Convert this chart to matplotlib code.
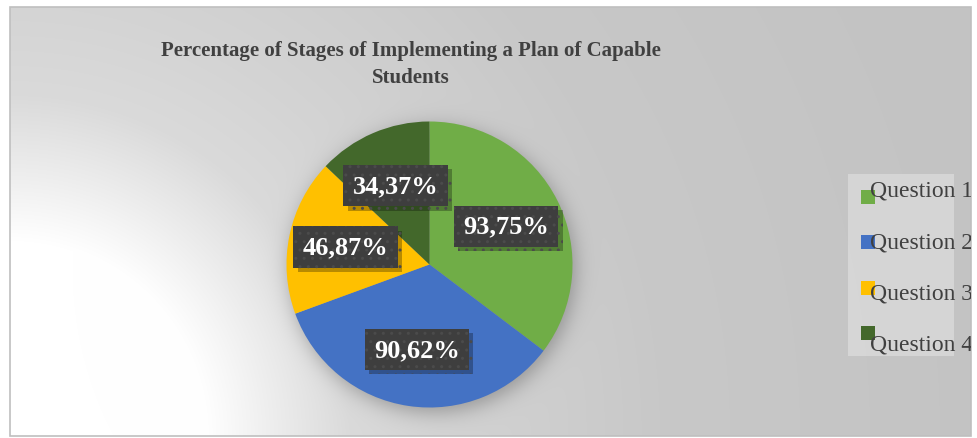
import numpy as np
import matplotlib
matplotlib.use('Agg')
import matplotlib.pyplot as plt
from matplotlib import patheffects
from matplotlib.patches import Rectangle
from matplotlib.transforms import Bbox, TransformedBbox

# data
questions = ['Question 1', 'Question 2', 'Question 3', 'Question 4']
values = [93.75, 90.62, 46.87, 34.37]
colors = ['#70ad47', '#4472c4', '#ffc000', '#43682b']
title = 'Percentage of Stages of Implementing a Plan of Capable\nStudents'

plt.rcParams['font.family'] = ['Liberation Serif', 'DejaVu Serif']

W, H = 977, 439
fig = plt.figure(figsize=(W / 100, H / 100), dpi=100)

# chart frame and pie position (pixels, from top-left)
left, top, right, bottom = 10, 8, 971, 437
cx, cy, R = 429.5, 265.5, 143

# background: light radial gradient from the lower-left corner + soft pie shadow
yy, xx = np.mgrid[0:H, 0:W] + 0.5
r = np.hypot(xx - left, yy - bottom)
v = np.interp(r, [0, 195, 260, 340, 430, 650, 1000],
              [255, 255, 238, 218, 212, 200, 195])
d = np.hypot(xx - (cx + 3), yy - (cy + 5))
s = 1 / (1 + np.exp((d - R) / 6))
v = v * (1 - 0.28 * s)
inside = (xx >= left) & (xx <= right) & (yy >= top) & (yy <= bottom)
v = np.where(inside, v, 255)
img = np.dstack([v, v, v]) / 255

bg = fig.add_axes([0, 0, 1, 1])
bg.imshow(img, extent=(0, W, H, 0), interpolation='bilinear')
bg.set_xlim(0, W)
bg.set_ylim(H, 0)
bg.axis('off')
bg.add_patch(Rectangle((left, top), right - left, bottom - top, fill=False,
                       edgecolor='#bfbfbf', linewidth=1.2))

# pie
ax = fig.add_axes([(cx - R) / W, (H - cy - R) / H, 2 * R / W, 2 * R / H])
wedges, _ = ax.pie(values, colors=colors, startangle=90, counterclock=False,
                   radius=1, wedgeprops=dict(linewidth=0))
ax.set_xlim(-1, 1)
ax.set_ylim(-1, 1)
ax.set_aspect('equal')
ax.axis('off')

# data labels: dark dotted boxes with a drop shadow
box = dict(boxstyle='square,pad=0.35', facecolor='#3e3e3e', edgecolor='#4b4b4b',
           linewidth=0, hatch='..')
for w, val in zip(wedges, values):
    mid = np.deg2rad((w.theta1 + w.theta2) / 2)
    x, y = 0.6 * np.cos(mid), 0.6 * np.sin(mid)
    lab = f'{val:.2f}%'.replace('.', ',')
    t = ax.text(x, y, lab, ha='center', va='center', fontsize=19, fontweight='bold',
                color='white', bbox=box, zorder=5)
    t.get_bbox_patch().set_path_effects([
        patheffects.SimplePatchShadow(offset=(3, -3), shadow_rgbFace='black', alpha=0.28),
        patheffects.Normal()])

# title (two lines, baseline of the last line given)
fig.text(411 / W, 1 - 83 / H, title, ha='center', va='baseline', fontsize=15,
         fontweight='bold', color='#404040', linespacing=1.45, multialignment='center')

# legend
clip = TransformedBbox(Bbox.from_extents(left / W, 1 - bottom / H, right / W, 1 - top / H),
                       fig.transFigure)
bg.add_patch(Rectangle((848, 175), 106, 182, facecolor='white', alpha=0.3, linewidth=0))
for i, (q, c) in enumerate(zip(questions, colors)):
    my = 197.5 + i * 45.6
    bg.add_patch(Rectangle((861, my - 7), 14, 14, facecolor=c, linewidth=0))
    t = fig.text(870 / W, 1 - (197 + i * 51.3) / H, q, ha='left', va='baseline',
                 fontsize=17, color='#404040')
    t.set_clip_box(clip)
    t.set_clip_on(True)

fig.savefig('out.png', dpi=100)
